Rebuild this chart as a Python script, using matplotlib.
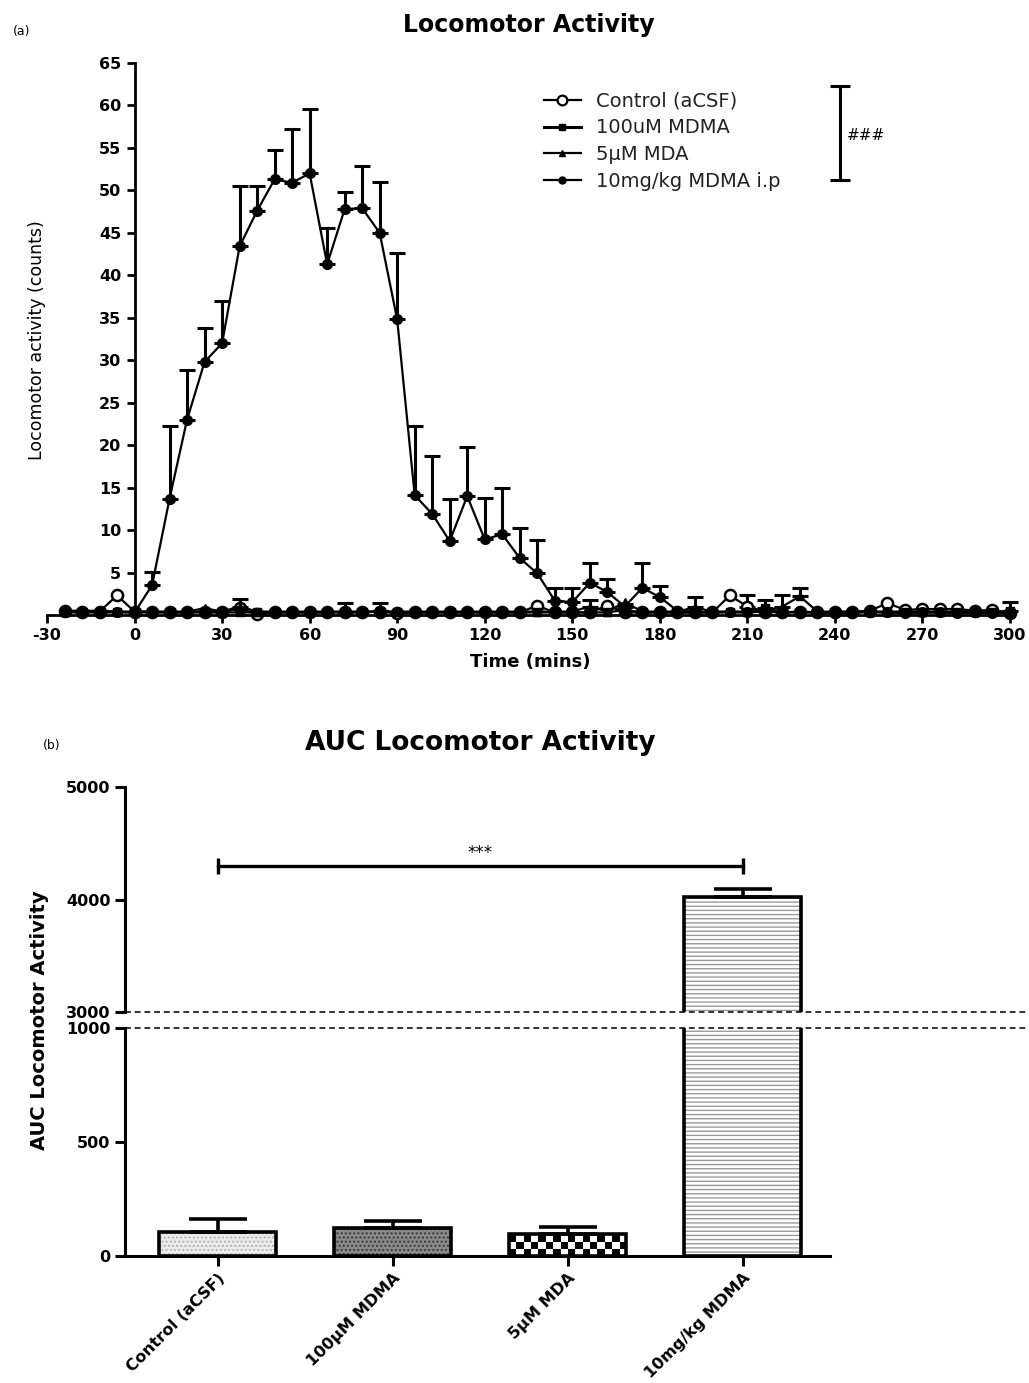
import numpy as np
import matplotlib
matplotlib.use("Agg")
import matplotlib.pyplot as plt
from matplotlib.lines import Line2D

plt.rcParams['font.family'] = ['DejaVu Sans']
plt.rcParams['axes.unicode_minus'] = False

# ---------------- data (panel a) ----------------
times = [-24, -18, -12, -6, 0, 6, 12, 18, 24, 30, 36, 42, 48, 54, 60, 66, 72, 78, 84, 90,
         96, 102, 108, 114, 120, 126, 132, 138, 144, 150, 156, 162, 168, 174, 180, 186,
         192, 198, 204, 210, 216, 222, 228, 234, 240, 246, 252, 258, 264, 270, 276, 282,
         288, 294, 300]

ip_mean = [0.5, 0.5, 0.5, 0.4, 0.3,
           3.5, 13.7, 23.0, 29.8, 32.0,
           43.4, 47.6, 51.3, 50.9, 52.0,
           41.3, 47.8, 47.9, 45.0, 34.8,
           14.1, 11.9, 8.7, 14.0, 8.9,
           9.5, 6.7, 4.9, 1.7, 1.5,
           3.8, 2.7, 1.0, 3.2, 2.1,
           0.5, 0.4, 0.3, 0.4, 0.3,
           0.4, 0.3, 0.4, 0.3, 0.2,
           0.3, 0.4, 0.3, 0.2, 0.3,
           0.3, 0.2, 0.3, 0.2, 0.2]
ip_err = [0, 0, 0, 0, 0,
          1.6, 8.5, 5.8, 4.0, 5.0,
          7.1, 2.9, 3.5, 6.3, 7.6,
          4.3, 2.0, 5.0, 6.0, 7.8,
          8.1, 6.8, 5.0, 5.8, 4.9,
          5.5, 3.6, 3.9, 1.5, 1.7,
          2.3, 1.5, 0.3, 2.9, 1.3,
          0, 0, 0, 0, 0,
          0, 0, 0, 0, 0,
          0, 0, 0, 0, 0,
          0, 0, 0, 0, 0]

ctrl_mean = [0.5, 0.4, 0.4, 2.3, 0.4,
             0.4, 0.3, 0.3, 0.4, 0.3,
             0.8, 0.1, 0.3, 0.3, 0.3,
             0.3, 0.4, 0.3, 0.4, 0.2,
             0.3, 0.3, 0.3, 0.3, 0.3,
             0.3, 0.3, 1.1, 0.3, 0.3,
             0.3, 1.1, 0.3, 0.3, 0.3,
             0.3, 0.3, 0.3, 2.3, 1.0,
             0.4, 0.3, 0.4, 0.3, 0.3,
             0.4, 0.5, 1.4, 0.6, 0.7,
             0.7, 0.7, 0.5, 0.6, 0.2]
ctrl_err = [0, 0, 0, 0, 0,
            0, 0, 0, 0, 0,
            0, 0, 0, 0, 0,
            0, 1.0, 0, 0, 0,
            0, 0, 0, 0, 0,
            0, 0, 0, 0, 0,
            0, 0, 0, 0, 0,
            0, 0, 0, 0, 1.3,
            0, 0, 0, 0, 0,
            0, 0, 0, 0, 0,
            0, 0, 0, 0, 0]

mdma100_mean = [0.3, 0.3, 0.3, 0.3, 0.3,
                0.3, 0.3, 0.3, 0.3, 0.3,
                0.3, 0.3, 0.3, 0.3, 0.3,
                0.3, 0.3, 0.3, 0.5, 0.3,
                0.3, 0.3, 0.3, 0.3, 0.3,
                0.3, 0.3, 0.3, 0.3, 0.3,
                0.3, 0.3, 0.6, 0.3, 0.3,
                0.3, 0.3, 0.3, 0.3, 0.3,
                0.8, 0.3, 0.3, 0.3, 0.3,
                0.3, 0.3, 0.3, 0.3, 0.3,
                0.3, 0.3, 0.3, 0.3, 0.5]
mdma100_err = [0, 0, 0, 0, 0,
               0, 0, 0, 0, 0,
               0, 0, 0, 0, 0,
               0, 0, 0, 0.9, 0,
               0, 0, 0, 0, 0,
               0, 0, 0, 0, 0,
               0, 0, 0, 0, 0,
               0, 0, 0, 0, 0,
               1.0, 0, 0, 0, 0,
               0, 0, 0, 0, 0,
               0, 0, 0, 0, 1.0]

mda5_mean = [0.4, 0.4, 0.4, 0.4, 0.4,
             0.4, 0.4, 0.4, 0.8, 0.4,
             1.0, 0.4, 0.4, 0.4, 0.4,
             0.4, 0.4, 0.4, 0.4, 0.4,
             0.4, 0.4, 0.4, 0.4, 0.4,
             0.4, 0.4, 0.4, 0.4, 0.4,
             1.0, 0.4, 1.5, 0.4, 0.4,
             0.4, 0.9, 0.4, 0.4, 0.4,
             0.4, 1.0, 2.2, 0.4, 0.4,
             0.4, 0.4, 0.4, 0.4, 0.4,
             0.4, 0.4, 0.4, 0.4, 0.4]
mda5_err = [0, 0, 0, 0, 0,
            0, 0, 0, 0, 0,
            0.9, 0, 0, 0, 0,
            0, 0, 0, 0, 0,
            0, 0, 0, 0, 0,
            0, 0, 0, 0, 0,
            0.8, 0, 0, 0, 0,
            0, 1.2, 0, 0, 0,
            0, 1.3, 1.0, 0, 0,
            0, 0, 0, 0, 0,
            0, 0, 0, 0, 0]

series_labels = ["Control (aCSF)", "100uM MDMA", "5\u00b5M MDA", "10mg/kg MDMA i.p"]

# ---------------- data (panel b) ----------------
groups = ["Control (aCSF)", "100\u00b5M MDMA", "5\u00b5M MDA", "10mg/kg MDMA"]
auc_mean = [105, 123, 96, 4025]
auc_sem = [57, 30, 31, 65]

# ---------------- figure ----------------
W, H = 1029, 1383
fig = plt.figure(figsize=(W / 100, H / 100), dpi=100)

def fx(px):
    return px / W

def fy(py):
    return 1 - py / H

TICK_FS = 11.5
# ---------- panel (a) ----------
ax = fig.add_axes([fx(47), fy(615), fx(1010) - fx(47), fy(63) - fy(615)])
ax.set_xlim(-30, 300)
ax.set_ylim(0, 65)
for s in ['top', 'right']:
    ax.spines[s].set_visible(False)
ax.spines['left'].set_position(('data', 0))
ax.spines['left'].set_linewidth(2)
ax.spines['bottom'].set_linewidth(2)
ax.set_xticks(np.arange(-30, 301, 30))
ax.set_yticks(np.arange(5, 66, 5))
ax.tick_params(axis='both', direction='out', length=6, width=2, labelsize=TICK_FS)
for lab in ax.get_xticklabels() + ax.get_yticklabels():
    lab.set_fontweight('bold')

t_arr = np.array(times, dtype=float)

def draw_series(mean, err, zorder, **mk):
    mean = np.array(mean, dtype=float)
    err = np.array(err, dtype=float)
    ax.plot(t_arr, mean, color='black', lw=1.6, zorder=zorder, clip_on=False, **mk)
    m = err > 0
    ax.errorbar(t_arr[m], mean[m], yerr=[np.zeros(m.sum()), err[m]], fmt='none',
                ecolor='black', elinewidth=2.2, capsize=6, capthick=2.2,
                zorder=zorder - 0.5, clip_on=False)

draw_series(ctrl_mean, ctrl_err, 2.5, marker='o', ms=8, mfc='white', mec='black', mew=1.8)
draw_series(mdma100_mean, mdma100_err, 3.5, marker='s', ms=6, mfc='black', mec='black')
draw_series(mda5_mean, mda5_err, 4, marker='^', ms=6, mfc='black', mec='black')
draw_series(ip_mean, ip_err, 5, marker='o', ms=7, mfc='black', mec='black')

handles = [
    Line2D([], [], color='black', lw=1.6, marker='o', ms=7, mfc='white', mew=1.6),
    Line2D([], [], color='black', lw=2.2, marker='s', ms=5),
    Line2D([], [], color='black', lw=1.6, marker='^', ms=5),
    Line2D([], [], color='black', lw=1.6, marker='o', ms=5),
]
leg = ax.legend(handles, series_labels, loc='upper left', bbox_to_anchor=(0.516, 0.948),
                frameon=False, fontsize=14, handlelength=1.9, handletextpad=0.8,
                labelspacing=0.4, borderpad=0, borderaxespad=0)
for t in leg.get_texts():
    t.set_color('#222222')

# significance bracket
ax.plot([241.7, 241.7], [51.2, 62.3], color='black', lw=2.2, marker='_', ms=14, mew=2.2,
        clip_on=False)
ax.text(244.0, 56.5, "###", fontsize=11, ha='left', va='center')

fig.text(fx(529), fy(25), "Locomotor Activity", ha='center', va='center', fontsize=17,
         fontweight='bold')
fig.text(fx(37), fy(340), "Locomotor activity (counts)", ha='center', va='center',
         rotation=90, fontsize=12.5)
fig.text(fx(530), fy(662), "Time (mins)", ha='center', va='center', fontsize=13,
         fontweight='bold')
fig.text(fx(22), fy(32), "(a)", ha='center', va='center', fontsize=9)

# ---------- panel (b) ----------
L, R = 125, 830
ax_up = fig.add_axes([fx(L), fy(1012), fx(R) - fx(L), fy(787) - fy(1012)])
ax_lo = fig.add_axes([fx(L), fy(1256), fx(R) - fx(L), fy(1028) - fy(1256)])
x = np.arange(len(groups))
for a in (ax_up, ax_lo):
    for s in ['top', 'right']:
        a.spines[s].set_visible(False)
    a.spines['left'].set_linewidth(2.2)
    a.spines['bottom'].set_linewidth(2.2)
    a.tick_params(axis='both', direction='out', length=7, width=2.2, labelsize=11.5)
ax_up.spines['bottom'].set_visible(False)
ax_up.set_xticks([])
ax_up.set_yticks([3000, 4000, 5000])
ax_lo.set_yticks([0, 500, 1000])
ax_lo.set_xticks(x)
ax_lo.set_xticklabels(groups, rotation=45, ha='right', rotation_mode='anchor', fontsize=11.5,
                      fontweight='bold')
for lab in ax_up.get_yticklabels() + ax_lo.get_yticklabels():
    lab.set_fontweight('bold')

bw = 0.67
fills = [dict(facecolor='#ececec', hatch='....', hc='#b5b5b5'),
         dict(facecolor='#8a8a8a', hatch='....', hc='#3a3a3a'),
         dict(facecolor='white', hatch=None, hc=None),
         dict(facecolor='white', hatch='----', hc='#9a9a9a')]
for a in (ax_up, ax_lo):
    for i in range(len(groups)):
        f = fills[i]
        if f['hatch']:
            a.bar(x[i], auc_mean[i], width=bw, color=f['facecolor'], edgecolor=f['hc'],
                  hatch=f['hatch'], lw=0, zorder=2)
        elif a is ax_lo:
            bars = a.bar(x[i], auc_mean[i], width=bw, color='white', lw=0, zorder=2)
            # checkerboard fill clipped to the bar
            ncol = 16
            y_unit = 31.0
            nrow = int(np.ceil(auc_mean[i] / y_unit))
            chk = (np.add.outer(np.arange(nrow), np.arange(ncol)) % 2).astype(float)
            im = a.imshow(chk, cmap='gray', vmin=0, vmax=1, interpolation='nearest',
                          extent=(x[i] - bw / 2, x[i] + bw / 2, 0, nrow * y_unit),
                          origin='lower', aspect='auto', zorder=2.1)
            im.set_clip_path(bars.patches[0])
        a.bar(x[i], auc_mean[i], width=bw, fill=False, edgecolor='black', lw=2.6, zorder=3)
    a.errorbar(x, auc_mean, yerr=[np.zeros(len(x)), auc_sem], fmt='none', ecolor='black',
               elinewidth=2.6, capsize=21, capthick=2.6, zorder=4)
    a.set_xlim(-0.53, 3.5)
    a.set_aspect('auto')
ax_up.set_ylim(3000, 5000)
ax_lo.set_ylim(0, 1000)

# broken-axis dashed lines
ext = (W - L) / (R - L)
ax_up.axhline(3000, xmin=0, xmax=ext, color='#333333', lw=1.4, ls=(0, (3, 2)), clip_on=False)
ax_lo.axhline(1000, xmin=0, xmax=ext, color='#333333', lw=1.4, ls=(0, (3, 2)), clip_on=False)

# significance bracket
ax_up.plot([0, 3], [4300, 4300], color='black', lw=2.4, marker='|', ms=12, mew=2.4)
ax_up.text(1.5, 4330, "***", ha='center', va='bottom', fontsize=12)

fig.text(fx(480), fy(743), "AUC Locomotor Activity", ha='center', va='center', fontsize=19,
         fontweight='bold')
fig.text(fx(40), fy(1020), "AUC Locomotor Activity", ha='center', va='center', rotation=90,
         fontsize=14, fontweight='bold')
fig.text(fx(52), fy(745), "(b)", ha='center', va='center', fontsize=9)

fig.savefig("out.png", dpi=100)
